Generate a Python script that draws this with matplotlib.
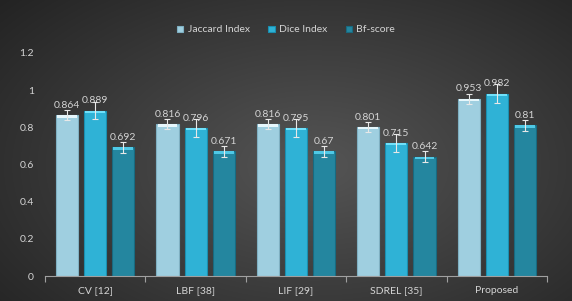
import matplotlib
matplotlib.use("Agg")
import matplotlib.pyplot as plt
import numpy as np

categories = ["CV [12]", "LBF [38]", "LIF [29]", "SDREL [35]", "Proposed"]
series_names = ["Jaccard Index", "Dice Index", "Bf-score"]
jaccard = [0.864, 0.816, 0.816, 0.801, 0.953]
dice = [0.889, 0.796, 0.795, 0.715, 0.982]
bfscore = [0.692, 0.671, 0.67, 0.642, 0.81]
jaccard_err = [0.027, 0.027, 0.027, 0.028, 0.026]
dice_err = [0.045, 0.048, 0.048, 0.047, 0.05]
bf_err = [0.03, 0.03, 0.03, 0.03, 0.03]
y_ticks = [0, 0.2, 0.4, 0.6, 0.8, 1, 1.2]
y_tick_labels = ["0", "0.2", "0.4", "0.6", "0.8", "1", "1.2"]

values = [jaccard, dice, bfscore]
errors = [jaccard_err, dice_err, bf_err]
colors = ["#9fcfe0", "#2fb2d6", "#24869f"]
edge_colors = ["#7fb0c2", "#1a8fb0", "#186a80"]
cap_colors = ["#e6f7fc", "#6fe0fa", "#4fc9e6"]

plt.rcParams['font.family'] = ['Lato', 'DejaVu Sans']
txt = "#d4d4d4"

W, H = 572, 301
fig = plt.figure(figsize=(W / 100, H / 100), dpi=100)

# radial gradient background
bg = fig.add_axes([0, 0, 1, 1])
yy, xx = np.mgrid[0:1:300j, 0:1:572j]
r = np.sqrt(((xx - 0.55) / 0.75) ** 2 + ((yy - 0.45) / 0.85) ** 2)
r = np.clip(r, 0, 1)
c0 = np.array([0x55, 0x55, 0x55]) / 255
c1 = np.array([0x22, 0x22, 0x22]) / 255
img = c0[None, None, :] * (1 - r[..., None]) + c1[None, None, :] * r[..., None]
bg.imshow(img, aspect='auto', extent=[0, 1, 0, 1], origin='lower')
bg.set_axis_off()

ax = fig.add_axes([45 / W, 25 / H, (547 - 45) / W, (276 - 53) / H])
ax.patch.set_alpha(0)

x = np.arange(len(categories))
bw = 0.22
step = 0.28
for i, (vals, errs) in enumerate(zip(values, errors)):
    pos = x + (i - 1) * step
    ax.bar(pos, vals, width=bw, color=colors[i], edgecolor=edge_colors[i],
           linewidth=0.8, label=series_names[i], zorder=2)
    caps = [0.012] * len(vals)
    ax.bar(pos, caps, bottom=np.array(vals) - 0.012, width=bw * 0.9,
           color=cap_colors[i], linewidth=0, zorder=3)
    ax.errorbar(pos, vals, yerr=errs, fmt='none', ecolor="#e8e8e8",
                elinewidth=0.8, capsize=2, capthick=0.8, zorder=4)
    for p, v in zip(pos, vals):
        ax.annotate(f"{v:g}", (p, v), xytext=(0, 4), textcoords='offset points',
                    ha='center', va='bottom', color=txt, fontsize=7.5, zorder=5)

ax.set_xlim(-0.5, len(categories) - 0.5)
ax.set_ylim(0, 1.2)
ax.set_yticks(y_ticks)
ax.set_yticklabels(y_tick_labels)
ax.set_xticks(x)
ax.set_xticklabels(categories)
ax.set_xticks(np.arange(-0.5, len(categories)), minor=True)
ax.tick_params(axis='x', which='major', length=0, colors=txt, labelsize=7.5, pad=7)
ax.tick_params(axis='x', which='minor', length=4, color="#a0a0a0", width=0.8)
ax.tick_params(axis='y', length=0, colors=txt, labelsize=7.5, pad=8)
for s in ['top', 'right', 'left']:
    ax.spines[s].set_visible(False)
ax.spines['bottom'].set_color("#a0a0a0")
ax.spines['bottom'].set_linewidth(0.8)

leg = fig.legend(loc='center', bbox_to_anchor=(0.5, 1 - 30 / H), ncol=3,
                 frameon=False, fontsize=7.5, handlelength=0.6, handleheight=0.6,
                 handletextpad=0.4, columnspacing=1.8, labelcolor=txt)

fig.savefig("out.png", dpi=100)
